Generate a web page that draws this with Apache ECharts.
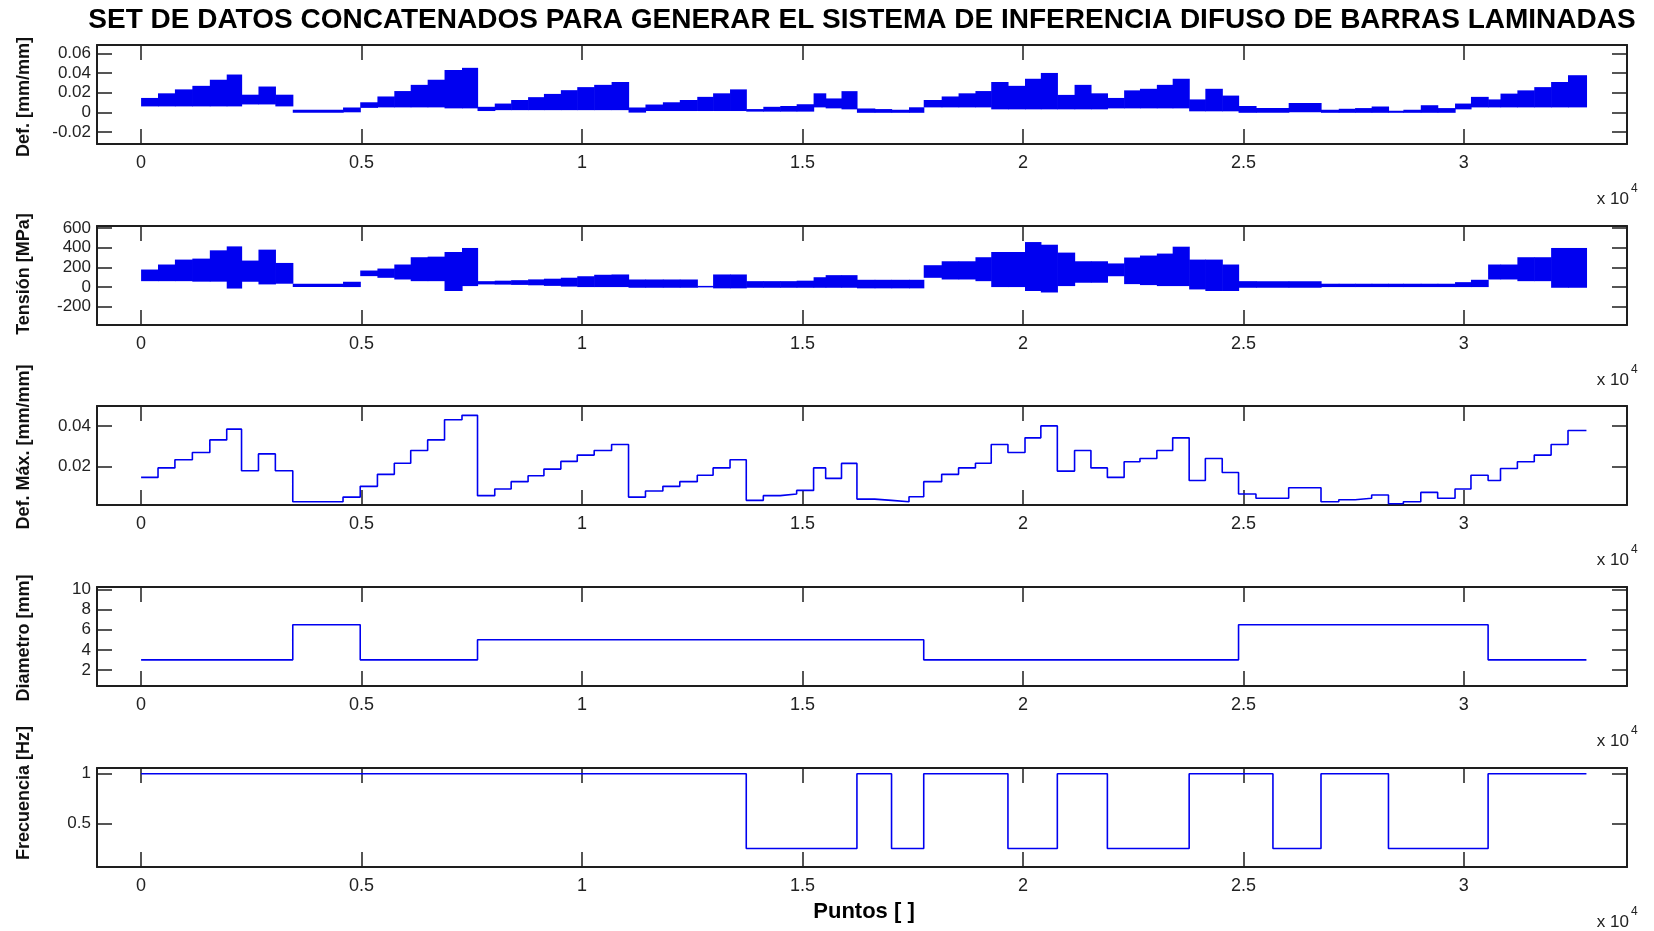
<!DOCTYPE html>
<html><head><meta charset="utf-8">
<script src="https://cdn.jsdelivr.net/npm/echarts@6/dist/echarts.min.js"></script>
<style>html,body{margin:0;padding:0;background:#fff}#c{width:1654px;height:931px}</style>
</head><body><div id="c"></div>
<script>
// ---------------- DATA ----------------
const X_END = 32780;                 // last sample index
const segStart = [0,384,767,1163,1559,1942,2278,2662,3045,3440,
 4580,4970,5360,5743,6115,6499,6882,7278,7630,8021,
 8393,8777,9136,9520,9892,10276,10671,11055,11439,11834,
 12218,12614,12973,13357,13725,14112,14496,14868,15252,15526,
 15885,16235,16638,17020,17416,17750,18157,18540,18923,19281,
 19660,20047,20406,20780,21171,21542,21915,22295,22654,23037,
 23396,23770,24137,24520,24890,25285,26027,26760,27163,27533,
 27909,28290,28628,29023,29406,29800,30161,30550,30831,31214,
 31597,31979,32362];
const defMax = [0.0146,0.0193,0.0233,0.0269,0.0331,0.0384,0.0179,0.0262,0.0179,0.0026,
 0.0049,0.0102,0.0161,0.0216,0.0279,0.0331,0.0430,0.0452,0.0056,0.0089,
 0.0125,0.0154,0.0187,0.0225,0.0256,0.0279,0.0308,0.0049,0.0079,0.0102,
 0.0125,0.0157,0.0193,0.0233,0.0033,0.0056,0.0064,0.0082,0.0193,0.0141,
 0.0215,0.0039,0.0033,0.0026,0.0051,0.0125,0.0161,0.0193,0.0216,0.0308,
 0.0269,0.0341,0.0400,0.0177,0.0279,0.0193,0.0146,0.0223,0.0239,0.0279,
 0.0341,0.0131,0.0239,0.0170,0.0064,0.0043,0.0095,0.0026,0.0036,0.0043,
 0.0059,0.0016,0.0026,0.0072,0.0043,0.0089,0.0157,0.0131,0.0190,0.0223,
 0.0256,0.0308,0.0377];
const defMin = [0.006,0.006,0.006,0.006,0.006,0.006,0.008,0.008,0.006,-0.0005,
 0.0,0.0045,0.005,0.005,0.005,0.005,0.004,0.004,0.0013,0.0022,
 0.0022,0.0022,0.0022,0.0022,0.0022,0.0022,0.0022,-0.0003,0.0013,0.0013,
 0.0013,0.0013,0.0013,0.0013,0.0007,0.0007,0.0007,0.0007,0.005,0.004,
 0.003,-0.0005,-0.0005,-0.0005,-0.0005,0.005,0.005,0.005,0.005,0.003,
 0.003,0.003,0.003,0.003,0.003,0.003,0.004,0.004,0.004,0.004,
 0.004,0.001,0.001,0.001,-0.0005,-0.0005,0.0,-0.0005,-0.0005,-0.0005,
 -0.0005,-0.0005,-0.0005,-0.0005,-0.0005,0.003,0.005,0.005,0.005,0.005,
 0.005,0.005,0.005];
const tensionMax = [178,229,279,289,373,413,269,380,245,34,
 54,168,188,229,303,309,356,397,60,65,
 70,78,85,95,110,125,128,77,77,77,
 77,12,128,128,60,60,60,65,100,121,
 121,74,74,74,74,222,262,262,303,356,
 356,457,430,350,262,262,240,300,320,340,
 410,279,279,229,60,60,60,34,34,34,
 34,34,34,34,34,50,74,229,229,303,
 303,397,397];
const tensionMin = [60,60,60,55,55,-15,54,27,34,0,
 0,111,94,77,60,60,-40,10,27,25,
 22,18,12,5,0,0,0,-7,-7,-7,
 -7,2,-13,-13,-7,-7,-7,-7,-7,-7,
 -7,-13,-13,-13,-13,94,77,77,60,0,
 0,-40,-55,10,44,44,110,30,20,10,
 10,-24,-40,-40,-7,-7,-7,0,0,0,
 0,0,0,0,0,0,0,77,77,60,
 60,-7,-7];
const diamStart  = [0, 3440, 4970, 7630, 17750, 24890, 30550];
const diamValues = [3, 6.5, 3, 5, 3, 6.5, 3];
const freqStart  = [0, 13725, 16235, 17020, 17750, 19660, 20780, 21915, 23770, 25670, 26760, 28290, 30550];
const freqValues = [1, 0.25, 1, 0.25, 1, 0.25, 1, 0.25, 1, 0.25, 1, 0.25, 1];

const xTicks       = [0, 5000, 10000, 15000, 20000, 25000, 30000];
const defTicks     = [-0.02, 0, 0.02, 0.04, 0.06];
const tensionTicks = [-200, 0, 200, 400, 600];
const defMaxTicks  = [0.02, 0.04];
const diamTicks    = [2, 4, 6, 8, 10];
const freqTicks    = [0.5, 1];

const titleText = 'SET DE DATOS CONCATENADOS PARA GENERAR EL SISTEMA DE INFERENCIA DIFUSO DE BARRAS LAMINADAS';
const yNames = ['Def. [mm/mm]', 'Tensión [MPa]', 'Def. Máx. [mm/mm]', 'Diametro [mm]', 'Frecuencia [Hz]'];
const xName = 'Puntos [ ]';

// ---------------- LAYOUT ----------------
const FONT = '"Liberation Sans", Arial, sans-serif';
const X_MIN = -1000, X_MAX = 33700;
const GRID_TOPS = [45, 226, 406, 587, 768];
const GRID_H = 99, GRID_L = 97, GRID_R = 27;
const yLim = [[-0.0322, 0.0684], [-385, 620], [0.001, 0.0498], [0.4, 10.25], [0.065, 1.058]];
const yTickList = [defTicks, tensionTicks, defMaxTicks, diamTicks, freqTicks];
const yNameCenters = [97, 274, 447, 638, 793];
const BLUE = '#0000f0';
const AX = '#1e1e1e';

const grids = [], xAxes = [], yAxes = [], series = [];
for (let i = 0; i < 5; i++) {
  grids.push({left: GRID_L, right: GRID_R, top: GRID_TOPS[i], height: GRID_H, outerBoundsMode: 'none', containLabel: false});
  const baseX = {type: 'value', gridIndex: i, min: X_MIN, max: X_MAX,
    axisLine: {show: true, onZero: false, lineStyle: {color: AX, width: 2}},
    axisTick: {show: true, inside: true, length: 15, customValues: xTicks, lineStyle: {color: AX, width: 1.5}},
    splitLine: {show: false}};
  xAxes.push(Object.assign({}, baseX, {position: 'bottom',
    axisLabel: {show: true, customValues: xTicks, margin: 10, fontSize: 18, fontFamily: FONT, color: '#222',
      formatter: v => String(v / 10000)}}));
  xAxes.push(Object.assign({}, baseX, {position: 'top', axisLabel: {show: false}}));
  const baseY = {type: 'value', gridIndex: i, min: yLim[i][0], max: yLim[i][1],
    axisLine: {show: true, onZero: false, lineStyle: {color: AX, width: 2}},
    axisTick: {show: true, inside: true, length: 15, customValues: yTickList[i], lineStyle: {color: AX, width: 1.5}},
    splitLine: {show: false}};
  yAxes.push(Object.assign({}, baseY, {position: 'left',
    axisLabel: {show: true, customValues: yTickList[i], margin: 6, fontSize: 17, fontFamily: FONT, color: '#222',
      formatter: v => String(v)}}));
  yAxes.push(Object.assign({}, baseY, {position: 'right', axisLabel: {show: false}}));
}

function bandRender(params, api) {
  const a = api.coord([api.value(0), api.value(3)]);
  const b = api.coord([api.value(1), api.value(2)]);
  return {type: 'rect', shape: {x: a[0], y: a[1], width: Math.max(1, b[0] - a[0] + 0.6), height: Math.max(1.5, b[1] - a[1])},
    style: {fill: BLUE}};
}
function bandData(lo, hi) {
  return segStart.map((s, k) => [s, k + 1 < segStart.length ? segStart[k + 1] : X_END, lo[k], hi[k]]);
}
function stepData(starts, vals) {
  const d = starts.map((s, k) => [s, vals[k]]);
  d.push([X_END, vals[vals.length - 1]]);
  return d;
}

series.push({type: 'custom', xAxisIndex: 0, yAxisIndex: 0, renderItem: bandRender, clip: true,
  encode: {x: [0, 1], y: [2, 3]}, data: bandData(defMin, defMax), silent: true});
series.push({type: 'custom', xAxisIndex: 2, yAxisIndex: 2, renderItem: bandRender, clip: true,
  encode: {x: [0, 1], y: [2, 3]}, data: bandData(tensionMin, tensionMax), silent: true});
const lineCommon = {type: 'line', step: 'end', showSymbol: false, symbol: 'none', animation: false,
  lineStyle: {color: BLUE, width: 1.6}, silent: true};
series.push(Object.assign({}, lineCommon, {xAxisIndex: 4, yAxisIndex: 4, data: stepData(segStart, defMax)}));
series.push(Object.assign({}, lineCommon, {xAxisIndex: 6, yAxisIndex: 6, data: stepData(diamStart, diamValues)}));
series.push(Object.assign({}, lineCommon, {xAxisIndex: 8, yAxisIndex: 8, data: stepData(freqStart, freqValues)}));

const graphics = [
  {type: 'text', x: 862, y: 20, style: {text: titleText, font: 'bold 28px ' + FONT, fill: '#000',
    textAlign: 'center', textVerticalAlign: 'middle', align: 'center', verticalAlign: 'middle'}},
  {type: 'text', x: 864, y: 912, style: {text: xName, font: 'bold 22px ' + FONT, fill: '#000',
    textAlign: 'center', textVerticalAlign: 'middle', align: 'center', verticalAlign: 'middle'}}
];
for (let i = 0; i < 5; i++) {
  graphics.push({type: 'text', x: 24, y: yNameCenters[i], rotation: Math.PI / 2,
    style: {text: yNames[i], font: 'bold 18px ' + FONT, fill: '#111',
      textAlign: 'center', textVerticalAlign: 'middle', align: 'center', verticalAlign: 'middle'}});
  const yb = GRID_TOPS[i] + GRID_H + 55;
  graphics.push({type: 'text', x: 1629, y: yb, style: {text: 'x 10', font: '17px ' + FONT, fill: '#222',
    textAlign: 'right', textVerticalAlign: 'middle', align: 'right', verticalAlign: 'middle'}});
  graphics.push({type: 'text', x: 1631, y: yb - 10, style: {text: '4', font: '12px ' + FONT, fill: '#222',
    textAlign: 'left', textVerticalAlign: 'middle', align: 'left', verticalAlign: 'middle'}});
}

const chart = echarts.init(document.getElementById('c'), null, {renderer: 'canvas'});
chart.setOption({
  backgroundColor: '#ffffff',
  animation: false,
  grid: grids, xAxis: xAxes, yAxis: yAxes, series: series, graphic: graphics
});
</script></body></html>
